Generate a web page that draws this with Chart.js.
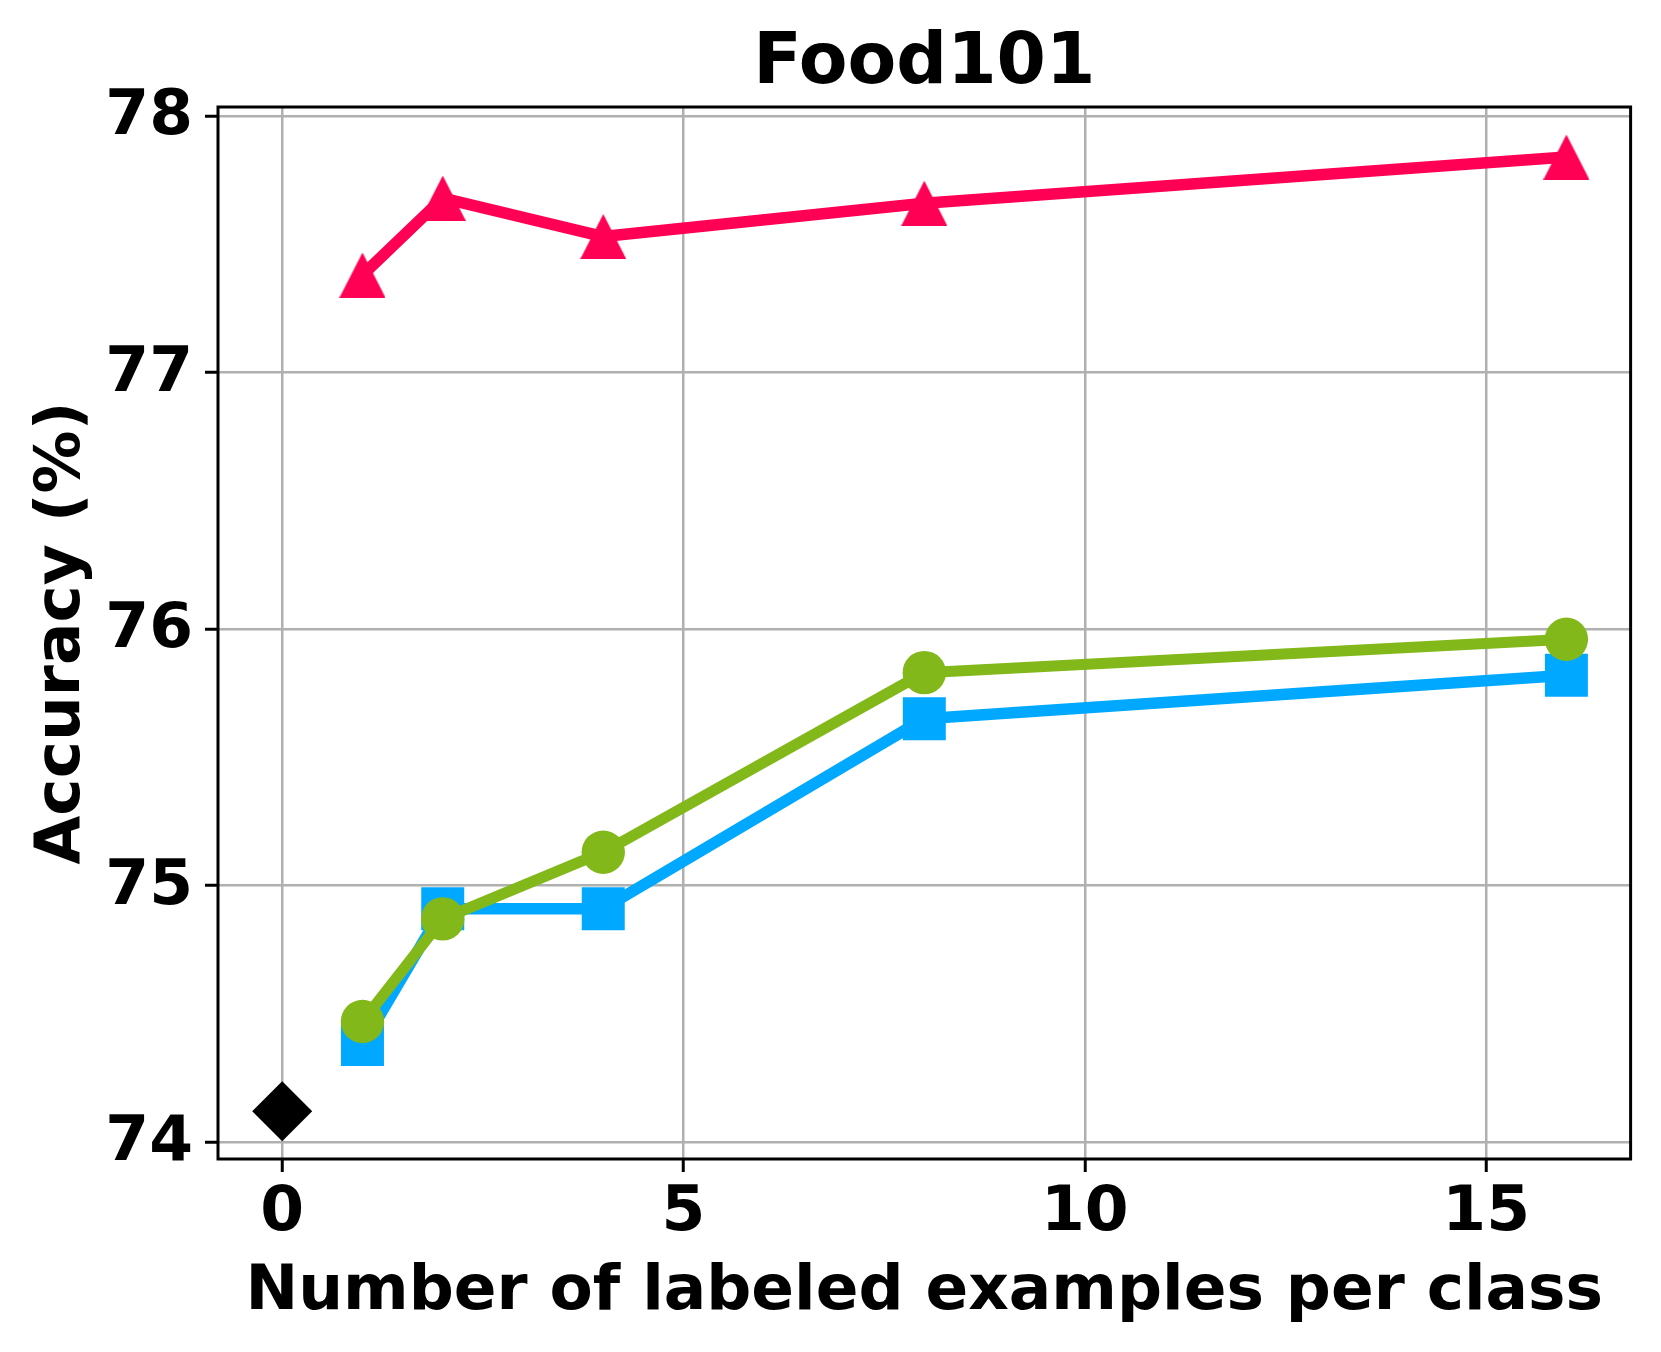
<!DOCTYPE html>
<html>
<head>
<meta charset="utf-8">
<title>Food101</title>
<script src="https://cdn.jsdelivr.net/npm/chart.js@4.4.1/dist/chart.umd.min.js"></script>
<style>
    html, body { margin: 0; padding: 0; background: #ffffff; }
    #chart { display: block; }
</style>
</head>
<body>
<canvas id="chart" width="1661" height="1352"></canvas>
<script>
// Shots per class (x) and accuracy (%)
const shots = [1, 2, 4, 8, 16];
const accTriangle = [77.38, 77.68, 77.53, 77.66, 77.84];
const accCircle = [74.47, 74.87, 75.13, 75.83, 75.96];
const accSquare = [74.38, 74.91, 74.91, 75.65, 75.82];
const zeroShotX = [0];
const zeroShotAcc = [74.12];

const xTicks = [0, 5, 10, 15];
const yTicks = [74, 75, 76, 77, 78];

const FONT = '"DejaVu Sans", "Liberation Sans", sans-serif';

function toPoints(xs, ys) {
    return xs.map((x, i) => ({ x: x, y: ys[i] }));
}

// matplotlib-like '^' marker, centred on its bounding box
function triangleMarker(color, w, h) {
    const c = document.createElement('canvas');
    c.width = w;
    c.height = h;
    const g = c.getContext('2d');
    g.fillStyle = color;
    g.beginPath();
    g.moveTo(w / 2, 0);
    g.lineTo(w, h);
    g.lineTo(0, h);
    g.closePath();
    g.fill();
    return c;
}

// full box around the axes, like matplotlib spines
const frame = {
    id: 'frame',
    afterDraw(chart) {
        const a = chart.chartArea;
        const ctx = chart.ctx;
        ctx.save();
        ctx.strokeStyle = '#000000';
        ctx.lineWidth = 3;
        ctx.strokeRect(a.left, a.top, a.right - a.left, a.bottom - a.top);
        ctx.restore();
    }
};

const ctx = document.getElementById('chart');

new Chart(ctx, {
    type: 'line',
    data: {
        datasets: [{
            label: 'triangle',
            data: toPoints(shots, accTriangle),
            borderColor: '#ff0055',
            borderWidth: 11.5,
            pointStyle: triangleMarker('#ff0055', 46, 45),
            pointRadius: 23,
            pointBackgroundColor: '#ff0055',
            pointBorderWidth: 0,
            tension: 0
        }, {
            label: 'circle',
            data: toPoints(shots, accCircle),
            borderColor: '#83b81a',
            borderWidth: 11,
            pointStyle: 'circle',
            pointRadius: 21.7,
            pointBackgroundColor: '#83b81a',
            pointBorderWidth: 0,
            tension: 0
        }, {
            label: 'square',
            data: toPoints(shots, accSquare),
            borderColor: '#00a8ff',
            borderWidth: 11.5,
            pointStyle: 'rect',
            pointRadius: 30.4,
            pointBackgroundColor: '#00a8ff',
            pointBorderWidth: 0,
            tension: 0
        }, {
            label: 'zero-shot',
            data: toPoints(zeroShotX, zeroShotAcc),
            showLine: false,
            pointStyle: 'rectRot',
            pointRadius: 30,
            pointBackgroundColor: '#000000',
            pointBorderWidth: 0
        }]
    },
    options: {
        responsive: false,
        devicePixelRatio: 1,
        animation: false,
        borderJoinStyle: 'round',
        layout: {
            padding: { left: 0, right: 30, top: 0, bottom: 0 }
        },
        plugins: {
            legend: { display: false },
            tooltip: { enabled: false },
            title: {
                display: true,
                text: 'Food101',
                fullSize: false,
                color: '#000000',
                font: { family: FONT, size: 71, weight: 'bold', lineHeight: 1.0 },
                padding: { top: 29, bottom: 7 }
            }
        },
        scales: {
            x: {
                type: 'linear',
                min: -0.8,
                max: 16.8,
                afterFit: (scale) => { scale.height = 193; },
                afterBuildTicks: (scale) => { scale.ticks = xTicks.map(v => ({ value: v })); },
                border: { display: false },
                grid: {
                    color: '#b0b0b0',
                    lineWidth: 2.5,
                    drawTicks: true,
                    tickLength: 13,
                    tickColor: '#000000',
                    tickWidth: 3
                },
                ticks: {
                    color: '#000000',
                    padding: 4,
                    maxRotation: 0,
                    font: { family: FONT, size: 63, weight: 'bold' }
                },
                title: {
                    display: true,
                    text: 'Number of labeled examples per class',
                    color: '#000000',
                    font: { family: FONT, size: 63, weight: 'bold' },
                    padding: { top: 0, bottom: 22 }
                }
            },
            y: {
                type: 'linear',
                min: 73.934,
                max: 78.035,
                afterFit: (scale) => { scale.width = 218; },
                afterBuildTicks: (scale) => { scale.ticks = yTicks.map(v => ({ value: v })); },
                border: { display: false },
                grid: {
                    color: '#b0b0b0',
                    lineWidth: 2.5,
                    drawTicks: true,
                    tickLength: 13,
                    tickColor: '#000000',
                    tickWidth: 3
                },
                ticks: {
                    color: '#000000',
                    padding: 12,
                    labelOffset: 2,
                    font: { family: FONT, size: 63, weight: 'bold' }
                },
                title: {
                    display: true,
                    text: 'Accuracy (%)',
                    color: '#000000',
                    font: { family: FONT, size: 63, weight: 'bold' },
                    padding: { top: 25, bottom: 0 }
                }
            }
        }
    },
    plugins: [frame]
});
</script>
</body>
</html>
